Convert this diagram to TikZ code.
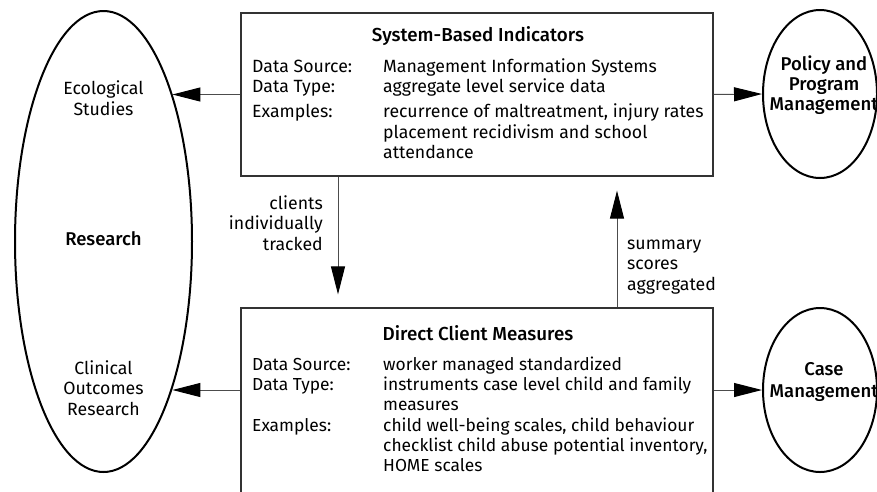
\documentclass[tikz,border=0pt]{standalone}
\usepackage{fontspec}
\setmainfont{Fira Sans}[BoldFont={Fira Sans Medium}]
\usetikzlibrary{shapes.geometric,arrows.meta}

\tikzset{
  bubble/.style={draw, ellipse, line width=2pt, inner sep=0pt},
  infobox/.style={draw=black!80, line width=1.2pt, inner sep=0pt, minimum width=472pt},
  caption/.style={inner sep=0pt, align=center},
  headline/.style={inner sep=0pt, font=\bfseries\fontsize{18.8}{21}\selectfont},
  flow/.style={draw=black!70, line width=1pt, -{Triangle[length=28pt,width=14pt,black]}},
}

\begin{document}
\begin{tikzpicture}[x=1pt,y=-1pt,font=\fontsize{17.7}{20.5}\selectfont]
   \useasboundingbox (0,0) rectangle (877,491);

   % outcome bubbles
   \node[bubble, minimum width=177pt, minimum height=461pt] (research) at (103.5,241.5) {};
   \node[bubble, minimum width=114pt, minimum height=168pt] (policy) at (820,94) {};
   \node[bubble, minimum width=114pt, minimum height=164pt] (caseM) at (820,390) {};

   \node[caption, anchor=base] (ecoText) at (103.5,115) {Ecological\\Studies};
   \node[caption, anchor=base, font=\bfseries\fontsize{18.5}{20.5}\selectfont] (resText) at (103.5,245) {Research};
   \node[caption, anchor=base] (clinText) at (103.5,415) {Clinical\\Outcomes\\Research};
   \node[caption, anchor=base, font=\bfseries\fontsize{18.5}{20}\selectfont] (policyText) at (824,110) {Policy and\\Program\\Management};
   \node[caption, anchor=base, font=\bfseries\fontsize{18.5}{22}\selectfont] (caseText) at (824,397) {Case\\Management};

   % indicator boxes
   \node[infobox, minimum height=163pt] (sbi) at (477,94.5) {};
   \node[infobox, minimum height=202pt] (dcm) at (477,409) {};

   \node[headline, anchor=base] (sbiTitle) at (478,41.7) {System-Based Indicators};
   \node[anchor=base west, inner sep=0pt] (sbiText) at (252,72) {%
     \begin{tabular}[t]{@{}p{131pt}@{}l@{}}
     Data Source: & Management Information Systems\\
     Data Type:   & aggregate level service data\\[4.5pt]
     Examples:    & recurrence of maltreatment, injury rates\\
                  & placement recidivism and school\\
                  & attendance
     \end{tabular}};

   \node[headline, anchor=base] (dcmTitle) at (478,340) {Direct Client Measures};
   \node[anchor=base west, inner sep=0pt, font=\fontsize{17.4}{20}\selectfont] (dcmText) at (252,370) {%
     \begin{tabular}[t]{@{}p{131pt}@{}l@{}}
     Data Source: & worker managed standardized\\
     Data Type:   & instruments case level child and family\\
                  & measures\\[1pt]
     Examples:    & child well-being scales, child behaviour\\
                  & checklist child abuse potential inventory,\\
                  & HOME scales
     \end{tabular}};

   \node[caption, anchor=base east, align=right] (trackText) at (323,250) {clients\\individually\\tracked};
   \node[caption, anchor=base west, align=left] (sumText) at (627,290) {summary\\scores\\aggregated};

   % connectors
   \path (sbi.west) edge[flow] (research.65 |- sbi.west);
   \path (sbi.east) edge[flow] (policy.west);
   \path (dcm.west |- caseM.west) edge[flow] (research.-65 |- caseM.west);
   \path (dcm.east |- caseM.west) edge[flow] (caseM.west);
   \path ([xshift=-139pt]sbi.south) edge[flow] ([xshift=-139pt,yshift=13pt]dcm.north);
   \path ([xshift=140pt]dcm.north) edge[flow] ([xshift=140pt,yshift=-14pt]sbi.south);
\end{tikzpicture}
\end{document}
